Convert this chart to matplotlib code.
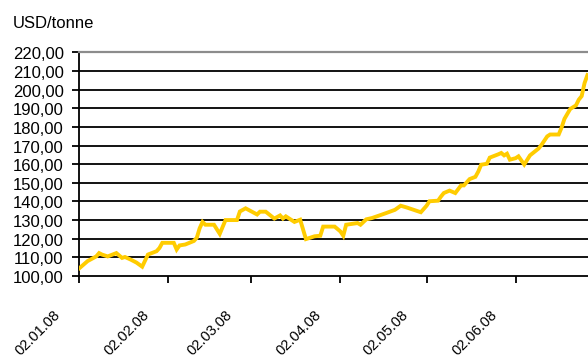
import matplotlib
matplotlib.use("Agg")
import matplotlib.pyplot as plt
from matplotlib.transforms import ScaledTranslation
import pandas as pd

plt.rcParams['font.family'] = ['Liberation Sans', 'DejaVu Sans']

# Price series (USD/tonne), 2008
dates = [
    "2008-01-02", "2008-01-05", "2008-01-08", "2008-01-09", "2008-01-10",
    "2008-01-12", "2008-01-15", "2008-01-17", "2008-01-18", "2008-01-20",
    "2008-01-22", "2008-01-24", "2008-01-26", "2008-01-29", "2008-01-30",
    "2008-01-31", "2008-02-04", "2008-02-05", "2008-02-06", "2008-02-08",
    "2008-02-11", "2008-02-12", "2008-02-13", "2008-02-14", "2008-02-15",
    "2008-02-18", "2008-02-20", "2008-02-22", "2008-02-26", "2008-02-27",
    "2008-02-29", "2008-03-04", "2008-03-05", "2008-03-07", "2008-03-10",
    "2008-03-12", "2008-03-13", "2008-03-14", "2008-03-17", "2008-03-19",
    "2008-03-21", "2008-03-24", "2008-03-26", "2008-03-27", "2008-03-31",
    "2008-04-02", "2008-04-03", "2008-04-04", "2008-04-08", "2008-04-09",
    "2008-04-11", "2008-04-13", "2008-04-16", "2008-04-18", "2008-04-21",
    "2008-04-23", "2008-04-25", "2008-04-30", "2008-05-02", "2008-05-03",
    "2008-05-06", "2008-05-07", "2008-05-08", "2008-05-10", "2008-05-12",
    "2008-05-14", "2008-05-15", "2008-05-17", "2008-05-19", "2008-05-20",
    "2008-05-21", "2008-05-23", "2008-05-24", "2008-05-27", "2008-05-28",
    "2008-05-29", "2008-05-30", "2008-05-31", "2008-06-02", "2008-06-03",
    "2008-06-05", "2008-06-07", "2008-06-10", "2008-06-11", "2008-06-13",
    "2008-06-14", "2008-06-17", "2008-06-18", "2008-06-19", "2008-06-21",
    "2008-06-23", "2008-06-24", "2008-06-25", "2008-06-26", "2008-06-27",
]
prices = [
    104.0, 108.0, 110.5, 112.3, 111.5,
    110.5, 112.3, 109.7, 110.2, 108.8,
    107.2, 105.0, 111.5, 113.3, 115.0,
    117.8, 117.8, 114.2, 116.4, 116.9,
    118.8, 120.5, 125.6, 129.0, 127.5,
    127.5, 122.6, 130.0, 130.0, 134.6,
    136.3, 133.0, 134.5, 134.5, 130.8,
    132.5, 130.8, 132.0, 129.0, 130.2,
    119.8, 121.3, 121.6, 126.5, 126.5,
    123.9, 121.6, 127.5, 128.4, 127.5,
    130.4, 131.1, 132.7, 133.8, 135.5,
    137.7, 136.8, 134.2, 137.7, 140.1,
    140.4, 142.6, 144.5, 145.8, 144.5,
    148.6, 148.6, 152.0, 153.2, 156.0,
    159.7, 160.2, 163.5, 165.3, 166.0,
    164.7, 165.6, 162.4, 163.2, 164.2,
    159.8, 164.7, 168.4, 170.3, 174.9,
    175.9, 175.9, 179.6, 184.3, 189.6,
    191.5, 194.6, 196.5, 203.5, 207.8,
]
tick_dates = ["2008-01-02", "2008-02-02", "2008-03-02",
              "2008-04-02", "2008-05-02", "2008-06-02"]
tick_labels = ["02.01.08", "02.02.08", "02.03.08",
               "02.04.08", "02.05.08", "02.06.08"]
y_ticks = list(range(100, 221, 10))

x = pd.to_datetime(dates)
xt = pd.to_datetime(tick_dates)

fig = plt.figure(figsize=(5.88, 3.57), dpi=100)
W, H = 588, 357
left, right, top, bottom = 79, 588, 52.3, 276
ax = fig.add_axes([left / W, (H - bottom) / H, (right - left) / W, (bottom - top) / H])

# horizontal gridlines
for v in y_ticks[1:-1]:
    ax.axhline(v, color="black", lw=1.3, zorder=1)

ax.plot(x, prices, color="#FFCC00", lw=2.8, solid_joinstyle="miter", zorder=3)

x0 = pd.Timestamp("2008-01-02")
ax.set_xlim(x0, x0 + pd.Timedelta(days=177.2))
ax.set_ylim(100, 220)

ax.set_yticks(y_ticks)
ax.set_yticklabels([f"{v:.2f}".replace(".", ",") for v in y_ticks], fontsize=12)
ax.tick_params(axis="y", direction="out", length=5, width=1.3, pad=6, colors="black")
shift_down = ScaledTranslation(0, -2.5 / 100, fig.dpi_scale_trans)
for lbl in ax.get_yticklabels():
    lbl.set_verticalalignment("center")
    lbl.set_transform(lbl.get_transform() + shift_down)

ax.set_xticks(xt)
ax.set_xticklabels([])
ax.tick_params(axis="x", direction="out", length=5, width=1.3)

for d, lab in zip(xt, tick_labels):
    ax.annotate(lab, xy=(d, 0), xycoords=("data", "axes fraction"),
                xytext=(-21 * 0.72, -37 * 0.72), textcoords="offset points",
                rotation=45, rotation_mode="anchor", ha="right", va="center",
                fontsize=10.5, color="black")

ax.spines["right"].set_visible(False)
ax.spines["top"].set_color("#8c8c8c")
ax.spines["top"].set_linewidth(1.6)
ax.spines["left"].set_linewidth(1.3)
ax.spines["bottom"].set_linewidth(1.3)
ax.spines["bottom"].set_color("black")
ax.set_facecolor("white")

fig.text(13 / W, 1 - 23 / H, "USD/tonne", fontsize=12, ha="left", va="center")

fig.savefig("out.png", dpi=100, facecolor="white")
